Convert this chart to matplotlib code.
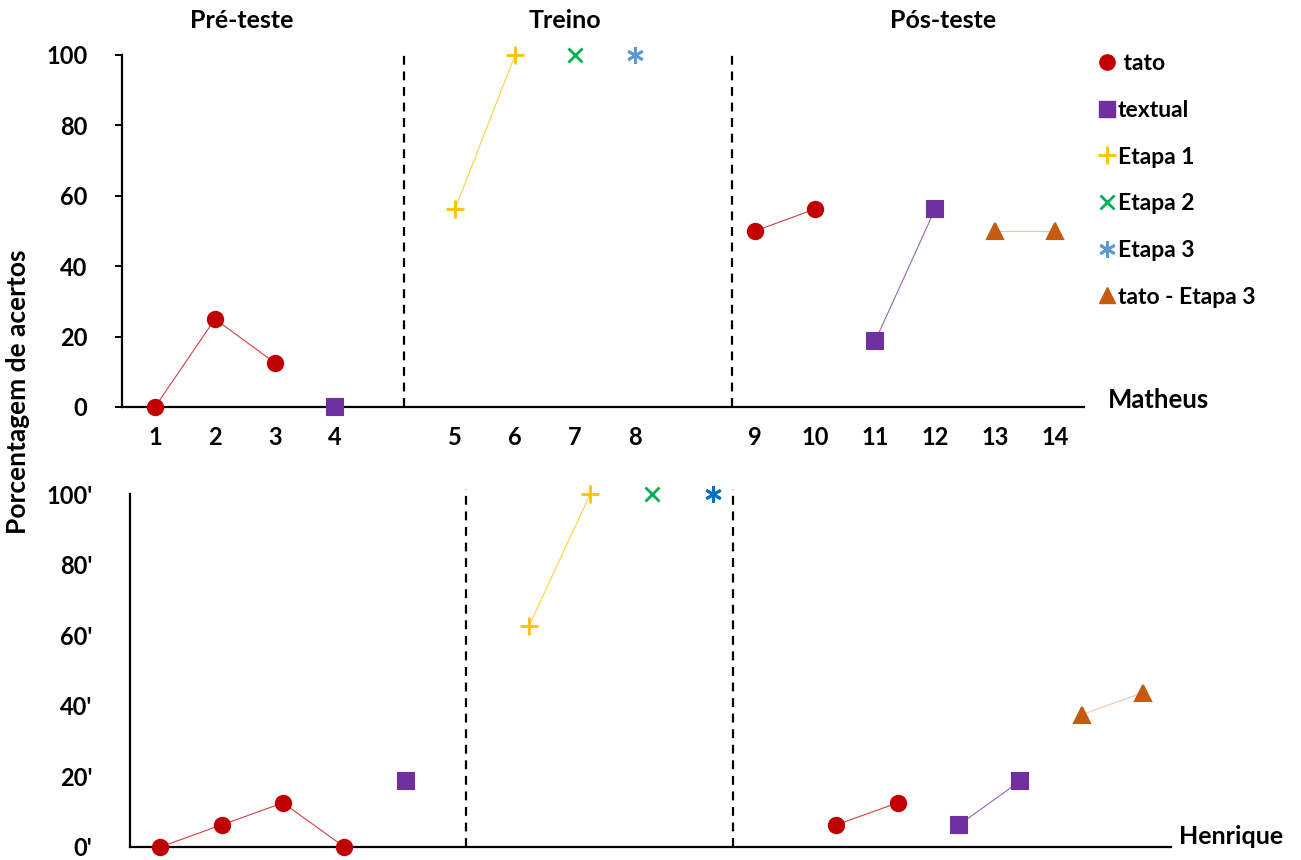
import matplotlib
matplotlib.use('Agg')
import matplotlib.pyplot as plt
from matplotlib.lines import Line2D

plt.rcParams['font.family'] = ['Lato', 'DejaVu Sans']
plt.rcParams['font.weight'] = 'bold'

# sessões (rótulos do eixo x do painel de cima)
sessoes = ['1', '2', '3', '4', '5', '6', '7', '8', '9', '10', '11', '12', '13', '14']
fases = ['Pré-teste', 'Treino', 'Pós-teste']

# Matheus: posição categórica (com lacunas entre fases) e % de acertos
m_tato_pre_x = [1, 2, 3]
m_tato_pre = [0, 25, 12.5]
m_textual_pre_x = [4]
m_textual_pre = [0]
m_etapa1_x = [6, 7]
m_etapa1 = [56.25, 100]
m_etapa2_x = [8]
m_etapa2 = [100]
m_etapa3_x = [9]
m_etapa3 = [100]
m_tato_pos_x = [11, 12]
m_tato_pos = [50, 56.25]
m_textual_pos_x = [13, 14]
m_textual_pos = [18.75, 56.25]
m_tato_e3_x = [15, 16]
m_tato_e3 = [50, 50]

# Henrique
h_tato_pre_x = [1, 2, 3, 4]
h_tato_pre = [0, 6.25, 12.5, 0]
h_textual_pre_x = [5]
h_textual_pre = [18.75]
h_etapa1_x = [7, 8]
h_etapa1 = [62.5, 100]
h_etapa2_x = [9]
h_etapa2 = [100]
h_etapa3_x = [10]
h_etapa3 = [100]
h_tato_pos_x = [12, 13]
h_tato_pos = [6.25, 12.5]
h_textual_pos_x = [14, 15]
h_textual_pos = [6.25, 18.75]
h_tato_e3_x = [16, 17]
h_tato_e3 = [37.5, 43.75]

VERM = '#C00000'
ROXO = '#7030A0'
AMAR = '#FFC000'
VERDE = '#00B050'
AZUL = '#5B9BD5'
AZUL2 = '#0070C0'
LARANJA = '#C55A11'

W, H = 1301, 860
fig = plt.figure(figsize=(W / 100, H / 100), dpi=100)


def px_axes(x0, y0, x1, y1):
    return fig.add_axes([x0 / W, 1 - y1 / H, (x1 - x0) / W, (y1 - y0) / H])


def serie(ax, x, y, cor, mk, ms, lcor=None, mew=1.5):
    ax.plot(x, y, color=lcor or cor, lw=0.8, alpha=0.75, zorder=2, clip_on=False)
    ax.plot(x, y, ls='none', marker=mk, ms=ms, color=cor, mec=cor, mew=mew,
            zorder=3, clip_on=False)


def estilo(ax):
    for s in ['top', 'right']:
        ax.spines[s].set_visible(False)
    for s in ['left', 'bottom']:
        ax.spines[s].set_linewidth(1.6)
    ax.set_ylim(0, 100)
    ax.set_yticks([0, 20, 40, 60, 80, 100])
    ax.tick_params(axis='y', labelsize=17, length=5, width=1.4, pad=20)
    ax.tick_params(axis='x', length=0, labelsize=17, pad=14)
    ax.patch.set_alpha(0)


# painel de cima - Matheus
ax1 = px_axes(122, 55, 1084, 407)
estilo(ax1)
ax1.set_xlim(0.45, 16.48)
ax1.set_xticks([1, 2, 3, 4, 6, 7, 8, 9, 11, 12, 13, 14, 15, 16])
ax1.set_xticklabels(sessoes)
serie(ax1, m_tato_pre_x, m_tato_pre, VERM, 'o', 11)
serie(ax1, m_textual_pre_x, m_textual_pre, ROXO, 's', 11)
serie(ax1, m_etapa1_x, m_etapa1, AMAR, '+', 13, mew=2)
serie(ax1, m_etapa2_x, m_etapa2, VERDE, 'x', 10, mew=2)
serie(ax1, m_etapa3_x, m_etapa3, AZUL, (6, 2, 0), 12, mew=2)
serie(ax1, m_tato_pos_x, m_tato_pos, VERM, 'o', 11)
serie(ax1, m_textual_pos_x, m_textual_pos, ROXO, 's', 11)
serie(ax1, m_tato_e3_x, m_tato_e3, LARANJA, '^', 12, lcor='#F4B183')
for xv in [5.15, 10.62]:
    ax1.plot([xv, xv], [0, 101], color='black', ls=(0, (4, 3)), lw=1.6, clip_on=False)
ax1.text(1.025, 0.02, 'Matheus', transform=ax1.transAxes, fontsize=18.5, ha='left', va='center')

# painel de baixo - Henrique
ax2 = px_axes(130, 494, 1171, 847)
estilo(ax2)
ax2.set_xlim(0.51, 17.45)
ax2.set_xticks([])
ax2.set_yticklabels([v + "'" for v in ['0', '20', '40', '60', '80', '100']])
ax2.tick_params(axis='y', length=0, pad=27)
serie(ax2, h_tato_pre_x, h_tato_pre, VERM, 'o', 11)
serie(ax2, h_textual_pre_x, h_textual_pre, ROXO, 's', 11)
serie(ax2, h_etapa1_x, h_etapa1, AMAR, '+', 13, mew=2)
serie(ax2, h_etapa2_x, h_etapa2, VERDE, 'x', 10, mew=2)
serie(ax2, h_etapa3_x, h_etapa3, AZUL2, (6, 2, 0), 12, mew=2)
serie(ax2, h_tato_pos_x, h_tato_pos, VERM, 'o', 11)
serie(ax2, h_textual_pos_x, h_textual_pos, ROXO, 's', 11)
serie(ax2, h_tato_e3_x, h_tato_e3, LARANJA, '^', 12, lcor='#F4B183')
for xv in [5.98, 10.32]:
    ax2.plot([xv, xv], [0, 101.5], color='black', ls=(0, (4, 3)), lw=1.6, clip_on=False)
ax2.text(1.008, 0.03, 'Henrique', transform=ax2.transAxes, fontsize=18, ha='left', va='center')

# títulos das fases
for nome, xp in zip(fases, [242, 565, 943]):
    fig.text(xp / W, 1 - 20 / H, nome, fontsize=18, ha='center', va='center')

fig.text(18 / W, 1 - 392 / H, 'Porcentagem de acertos', rotation=90, fontsize=19,
         ha='center', va='center')

# legenda
handles = [
    Line2D([], [], ls='none', marker='o', ms=11, color=VERM),
    Line2D([], [], ls='none', marker='s', ms=11, color=ROXO),
    Line2D([], [], ls='none', marker='+', ms=13, mew=2, color=AMAR),
    Line2D([], [], ls='none', marker='x', ms=10, mew=2, color=VERDE),
    Line2D([], [], ls='none', marker=(6, 2, 0), ms=12, mew=2, color=AZUL),
    Line2D([], [], ls='none', marker='^', ms=12, color=LARANJA),
]
labels = [' tato', 'textual', 'Etapa 1', 'Etapa 2', 'Etapa 3', 'tato - Etapa 3']
fig.legend(handles, labels, loc='upper left', bbox_to_anchor=(1088 / W, 1 - 44 / H),
           frameon=False, fontsize=16.5, handlelength=0.9, handletextpad=0.0,
           labelspacing=1.12, borderaxespad=0)

fig.savefig('out.png', dpi=100)
